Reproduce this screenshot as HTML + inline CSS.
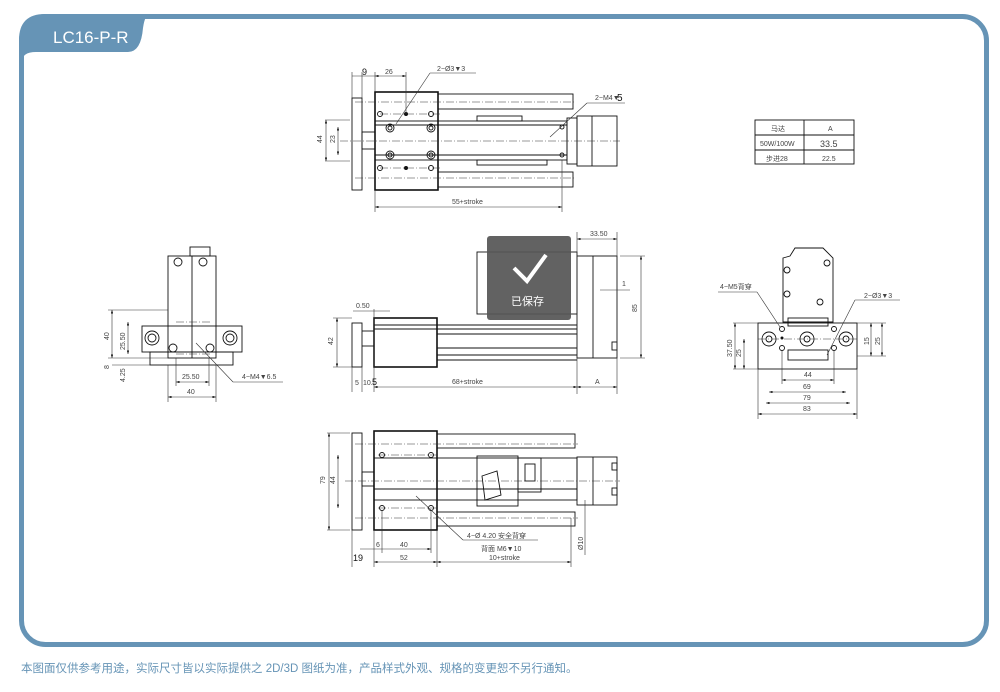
<!DOCTYPE html>
<html><head><meta charset="utf-8"><style>
html,body{margin:0;padding:0;background:#fff;width:1000px;height:692px;overflow:hidden}
svg{display:block}
.t{font-family:"Liberation Sans","Noto Sans CJK SC",sans-serif;fill:#444;font-size:7px}
.k{stroke:#111;fill:none;stroke-width:0.9}
.th{stroke:#111;fill:none;stroke-width:1.6}
.d{stroke:#333;fill:none;stroke-width:0.6}
.c{stroke:#333;fill:none;stroke-width:0.5;stroke-dasharray:8 2 1 2}
</style></head><body>
<svg width="1000" height="692" viewBox="0 0 1000 692" xmlns="http://www.w3.org/2000/svg">
<defs><marker id="a" markerWidth="6" markerHeight="4" refX="6" refY="2" orient="auto-start-reverse"><path d="M0,0L6,2L0,4z" fill="#111"/></marker></defs>
<rect x="21.5" y="16.5" width="965" height="628" rx="24" fill="#fff" stroke="#6694b6" stroke-width="5"/>
<path d="M19,40 Q19,14 45,14 L150,14 Q145,14 143,28 Q141,52 128,52 L36,52 Q22,52 22,62 Z" fill="#6694b6"/>
<text x="53" y="43" font-family="Liberation Sans,sans-serif" font-size="17" fill="#fff">LC16-P-R</text>

<!-- TOP VIEW -->
<g>
<rect class="k" x="352" y="98" width="10" height="92"/>
<rect class="th" x="375" y="92" width="63" height="98"/>
<rect class="k" x="375" y="121" width="192" height="39"/>
<line class="k" x1="375" y1="125" x2="567" y2="125"/><line class="k" x1="375" y1="155" x2="567" y2="155"/>
<rect class="k" x="438" y="94" width="135" height="15"/><rect class="k" x="438" y="172" width="135" height="15"/>
<rect class="k" x="577" y="116" width="40" height="50"/><line class="k" x1="592" y1="116" x2="592" y2="166"/>
<rect class="k" x="567" y="118" width="10" height="46"/>
<rect class="k" x="477" y="116" width="45" height="5"/><rect class="k" x="477" y="160" width="70" height="5"/>
<rect class="k" x="362" y="132" width="13" height="17"/>
<line class="c" x1="340" y1="141" x2="620" y2="141"/>
<line class="c" x1="355" y1="102" x2="575" y2="102"/><line class="c" x1="355" y1="178" x2="575" y2="178"/>
<line class="c" x1="380" y1="114" x2="440" y2="114"/><line class="c" x1="380" y1="168" x2="440" y2="168"/>
<g class="k"><circle cx="390" cy="128" r="4"/><circle cx="390" cy="128" r="2"/><circle cx="431" cy="128" r="4"/><circle cx="431" cy="128" r="2"/>
<circle cx="390" cy="155" r="4"/><circle cx="390" cy="155" r="2"/><circle cx="431" cy="155" r="4"/><circle cx="431" cy="155" r="2"/>
<circle cx="380" cy="114" r="2.5"/><circle cx="431" cy="114" r="2.5"/><circle cx="380" cy="168" r="2.5"/><circle cx="431" cy="168" r="2.5"/>
<circle cx="562" cy="127" r="2"/><circle cx="562" cy="155" r="2"/></g>
<circle cx="406" cy="114" r="2" fill="#111"/><circle cx="406" cy="168" r="2" fill="#111"/>
<line class="d" x1="396" y1="124" x2="430" y2="73"/><line class="d" x1="430" y1="73" x2="476" y2="73"/>
<text class="t" x="437" y="71">2−Ø3▼3</text>
<line class="d" x1="550" y1="137" x2="587" y2="103"/><line class="d" x1="587" y1="103" x2="625" y2="103"/>
<text class="t" x="595" y="100">2−M4▼</text><text x="617" y="101" font-family="Liberation Sans" font-size="10" fill="#111">5</text>
<line class="d" x1="352" y1="72" x2="352" y2="98"/><line class="d" x1="362" y1="72" x2="362" y2="98"/><line class="d" x1="375" y1="72" x2="375" y2="92"/><line class="d" x1="406" y1="72" x2="406" y2="114"/>
<line class="d" x1="352" y1="76" x2="375" y2="76"/><line class="d" x1="375" y1="76" x2="406" y2="76" marker-start="url(#a)" marker-end="url(#a)"/>
<text x="362" y="75" font-size="9" font-family="Liberation Sans" fill="#111">9</text><text class="t" x="385" y="74">26</text>
<line class="d" x1="325" y1="120" x2="350" y2="120" /><line class="d" x1="325" y1="161" x2="350" y2="161"/>
<line class="d" x1="326" y1="120" x2="326" y2="161" marker-start="url(#a)" marker-end="url(#a)"/>
<line class="d" x1="338" y1="127" x2="338" y2="155" marker-start="url(#a)" marker-end="url(#a)"/>
<text class="t" x="322" y="143" transform="rotate(-90 322 143)">44</text><text class="t" x="335" y="143" transform="rotate(-90 335 143)">23</text>
<line class="d" x1="375" y1="190" x2="375" y2="212"/><line class="d" x1="562" y1="160" x2="562" y2="212"/>
<line class="d" x1="375" y1="207" x2="562" y2="207" marker-start="url(#a)" marker-end="url(#a)"/>
<text class="t" x="452" y="204">55+stroke</text>
</g>

<!-- TABLE -->
<g>
<rect class="k" x="755" y="120" width="99" height="44"/>
<line class="k" x1="755" y1="135" x2="854" y2="135"/><line class="k" x1="755" y1="150" x2="854" y2="150"/><line class="k" x1="804" y1="120" x2="804" y2="164"/>
<text class="t" x="771" y="131">马达</text><text class="t" x="828" y="131">A</text>
<text class="t" x="760" y="146">50W/100W</text><text class="t" x="820" y="147" style="font-size:9px">33.5</text>
<text class="t" x="766" y="161">步进28</text><text class="t" x="822" y="161">22.5</text>
</g>

<!-- MIDDLE SIDE VIEW -->
<g>
<rect class="k" x="352" y="323" width="10" height="44"/>
<rect class="th" x="374" y="318" width="63" height="49"/>
<line class="k" x1="374" y1="325" x2="577" y2="325"/><line class="k" x1="374" y1="329" x2="577" y2="329"/>
<line class="k" x1="437" y1="334" x2="577" y2="334"/><line class="k" x1="437" y1="348" x2="577" y2="348"/><line class="k" x1="437" y1="355" x2="577" y2="355"/><line class="k" x1="437" y1="360" x2="577" y2="360"/>
<rect class="k" x="577" y="256" width="40" height="102"/><line class="k" x1="593" y1="256" x2="593" y2="358"/>
<rect class="k" x="612" y="342" width="5" height="8"/>
<rect class="k" x="477" y="252" width="100" height="62"/>
<line class="k" x1="362" y1="331" x2="374" y2="331"/><line class="k" x1="362" y1="346" x2="374" y2="346"/>
<rect x="487" y="236" width="84" height="84" rx="3" fill="#555" opacity="0.92"/>
<path d="M514,268 L527,281 L546,255" stroke="#fff" stroke-width="4" fill="none"/>
<text x="511" y="305" font-family="Liberation Sans,Noto Sans CJK SC,sans-serif" font-size="11" fill="#fff">已保存</text>
<line class="d" x1="577" y1="232" x2="577" y2="394"/><line class="d" x1="617" y1="232" x2="617" y2="394"/>
<line class="d" x1="577" y1="239" x2="617" y2="239" marker-start="url(#a)" marker-end="url(#a)"/><text class="t" x="590" y="236">33.50</text>
<line class="d" x1="620" y1="256" x2="645" y2="256"/><line class="d" x1="620" y1="358" x2="645" y2="358"/>
<line class="d" x1="641" y1="256" x2="641" y2="358" marker-start="url(#a)" marker-end="url(#a)"/><text class="t" x="637" y="312" transform="rotate(-90 637 312)">85</text>
<line class="d" x1="600" y1="290" x2="630" y2="290"/><text class="t" x="622" y="286">1</text>
<line class="d" x1="577" y1="387" x2="617" y2="387" marker-start="url(#a)" marker-end="url(#a)"/><text class="t" x="595" y="384">A</text>
<line class="d" x1="374" y1="387" x2="577" y2="387" marker-start="url(#a)" marker-end="url(#a)"/><text class="t" x="452" y="384">68+stroke</text>
<line class="d" x1="352" y1="367" x2="352" y2="392"/><line class="d" x1="362" y1="367" x2="362" y2="392"/><line class="d" x1="374" y1="309" x2="374" y2="392"/>
<text class="t" x="355" y="385">5</text><text class="t" x="363" y="385">10.</text><text x="372" y="385" font-size="9" font-family="Liberation Sans" fill="#111">5</text>
<line class="d" x1="353" y1="311" x2="390" y2="311"/><text class="t" x="356" y="308">0.50</text>
<line class="d" x1="333" y1="318" x2="352" y2="318"/><line class="d" x1="333" y1="367" x2="352" y2="367"/>
<line class="d" x1="337" y1="318" x2="337" y2="367" marker-start="url(#a)" marker-end="url(#a)"/><text class="t" x="333" y="345" transform="rotate(-90 333 345)">42</text>
</g>

<!-- BOTTOM VIEW -->
<g>
<rect class="k" x="352" y="433" width="10" height="97"/>
<rect class="th" x="374" y="431" width="63" height="99"/>
<rect class="k" x="374" y="458" width="203" height="42"/>
<line class="k" x1="374" y1="489" x2="577" y2="489"/>
<rect class="k" x="437" y="434" width="138" height="14"/><rect class="k" x="437" y="512" width="138" height="14"/>
<rect class="k" x="477" y="456" width="41" height="50"/><rect class="k" x="518" y="458" width="23" height="34"/><rect class="k" x="525" y="464" width="10" height="17"/>
<path class="k" d="M482,476 L497,471 L501,495 L485,500Z"/>
<rect class="k" x="577" y="457" width="40" height="48"/><line class="k" x1="593" y1="457" x2="593" y2="505"/>
<rect class="k" x="612" y="463" width="5" height="7"/><rect class="k" x="612" y="488" width="5" height="7"/>
<rect class="k" x="362" y="472" width="12" height="14"/>
<line class="c" x1="345" y1="481" x2="620" y2="481"/>
<line class="c" x1="355" y1="444" x2="578" y2="444"/><line class="c" x1="355" y1="518" x2="578" y2="518"/>
<line class="c" x1="378" y1="455" x2="440" y2="455"/><line class="c" x1="378" y1="508" x2="440" y2="508"/>
<g class="k"><circle cx="382" cy="455" r="2.5"/><circle cx="431" cy="455" r="2.5"/><circle cx="382" cy="508" r="2.5"/><circle cx="431" cy="508" r="2.5"/></g>
<line class="d" x1="416" y1="496" x2="463" y2="540"/><line class="d" x1="463" y1="540" x2="538" y2="540"/>
<text class="t" x="467" y="538">4−Ø 4.20 安全背穿</text><text class="t" x="481" y="551">背面 M6▼10</text>
<line class="d" x1="327" y1="433" x2="350" y2="433"/><line class="d" x1="327" y1="530" x2="350" y2="530"/>
<line class="d" x1="329" y1="433" x2="329" y2="530" marker-start="url(#a)" marker-end="url(#a)"/><text class="t" x="325" y="484" transform="rotate(-90 325 484)">79</text>
<line class="d" x1="338" y1="455" x2="338" y2="508" marker-start="url(#a)" marker-end="url(#a)"/><text class="t" x="335" y="484" transform="rotate(-90 335 484)">44</text>
<line class="d" x1="352" y1="530" x2="352" y2="567"/><line class="d" x1="374" y1="530" x2="374" y2="567"/><line class="d" x1="437" y1="530" x2="437" y2="567"/><line class="d" x1="382" y1="510" x2="382" y2="553"/><line class="d" x1="431" y1="510" x2="431" y2="553"/><line class="d" x1="571" y1="518" x2="571" y2="567"/>
<line class="d" x1="360" y1="549" x2="431" y2="549" marker-end="url(#a)"/><text class="t" x="376" y="547">6</text><text class="t" x="400" y="547">40</text>
<line class="d" x1="374" y1="562" x2="437" y2="562" marker-start="url(#a)" marker-end="url(#a)"/><text class="t" x="400" y="560">52</text>
<line class="d" x1="437" y1="562" x2="571" y2="562" marker-start="url(#a)" marker-end="url(#a)"/><text class="t" x="489" y="560">10+stroke</text>
<text x="353" y="561" font-size="9" font-family="Liberation Sans" fill="#111">19</text>
<line class="d" x1="585" y1="500" x2="585" y2="555"/><text class="t" x="583" y="550" transform="rotate(-90 583 550)">Ø10</text>
</g>

<!-- LEFT END VIEW -->
<g>
<rect class="k" x="168" y="256" width="48" height="102"/><line class="k" x1="192" y1="256" x2="192" y2="358"/>
<rect class="k" x="190" y="247" width="20" height="9"/>
<rect class="k" x="142" y="326" width="100" height="26"/>
<rect class="k" x="150" y="352" width="83" height="13"/>
<g class="k"><circle cx="178" cy="262" r="4"/><circle cx="203" cy="262" r="4"/><circle cx="173" cy="348" r="4"/><circle cx="210" cy="348" r="4"/>
<circle cx="152" cy="338" r="7"/><circle cx="152" cy="338" r="4"/><circle cx="230" cy="338" r="7"/><circle cx="230" cy="338" r="4"/></g>
<line class="c" x1="176" y1="322" x2="210" y2="322"/><line class="c" x1="176" y1="354" x2="210" y2="354"/>
<line class="d" x1="108" y1="310" x2="168" y2="310"/><line class="d" x1="108" y1="358" x2="168" y2="358"/>
<line class="d" x1="112" y1="310" x2="112" y2="358" marker-start="url(#a)" marker-end="url(#a)"/><text class="t" x="109" y="340" transform="rotate(-90 109 340)">40</text>
<line class="d" x1="128" y1="322" x2="128" y2="354" marker-start="url(#a)" marker-end="url(#a)"/><text class="t" x="125" y="350" transform="rotate(-90 125 350)">25.50</text>
<line class="d" x1="112" y1="365" x2="150" y2="365"/>
<text class="t" x="109" y="369" transform="rotate(-90 109 369)">8</text><text class="t" x="125" y="382" transform="rotate(-90 125 382)">4.25</text>
<line class="d" x1="176" y1="358" x2="176" y2="386"/><line class="d" x1="209" y1="358" x2="209" y2="386"/>
<line class="d" x1="176" y1="382" x2="209" y2="382" marker-start="url(#a)" marker-end="url(#a)"/><text class="t" x="182" y="379">25.50</text>
<line class="d" x1="168" y1="397" x2="216" y2="397" marker-start="url(#a)" marker-end="url(#a)"/><text class="t" x="187" y="394">40</text>
<line class="d" x1="168" y1="365" x2="168" y2="402"/><line class="d" x1="216" y1="365" x2="216" y2="402"/>
<line class="d" x1="196" y1="343" x2="233" y2="382"/><line class="d" x1="233" y1="382" x2="283" y2="382"/>
<text class="t" x="242" y="379">4−M4▼6.5</text>
</g>

<!-- RIGHT END VIEW -->
<g>
<path class="k" d="M783,258 L790,256 L795,248 L823,248 L833,258 L833,322 L783,322Z"/>
<g class="k"><circle cx="787" cy="270" r="3"/><circle cx="827" cy="263" r="3"/><circle cx="787" cy="294" r="3"/><circle cx="820" cy="302" r="3"/></g>
<rect class="k" x="788" y="318" width="40" height="8"/>
<rect class="k" x="758" y="323" width="99" height="46"/>
<rect class="k" x="788" y="350" width="40" height="10"/>
<g class="k"><circle cx="769" cy="339" r="7"/><circle cx="769" cy="339" r="3"/><circle cx="807" cy="339" r="7"/><circle cx="807" cy="339" r="3"/><circle cx="846" cy="339" r="7"/><circle cx="846" cy="339" r="3"/>
<circle cx="782" cy="329" r="2.5"/><circle cx="834" cy="329" r="2.5"/><circle cx="782" cy="348" r="2.5"/><circle cx="834" cy="348" r="2.5"/></g>
<circle cx="782" cy="338" r="1.5" fill="#111"/>
<line class="c" x1="758" y1="339" x2="857" y2="339"/>
<line class="d" x1="718" y1="292" x2="757" y2="292"/><line class="d" x1="757" y1="292" x2="780" y2="327"/><text class="t" x="720" y="289">4−M5背穿</text>
<line class="d" x1="827" y1="355" x2="855" y2="300"/><line class="d" x1="855" y1="300" x2="900" y2="300"/><text class="t" x="864" y="298">2−Ø3▼3</text>
<line class="d" x1="733" y1="323" x2="758" y2="323"/><line class="d" x1="733" y1="369" x2="758" y2="369"/>
<line class="d" x1="735" y1="323" x2="735" y2="369" marker-start="url(#a)" marker-end="url(#a)"/><text class="t" x="732" y="357" transform="rotate(-90 732 357)">37.50</text>
<line class="d" x1="744" y1="339" x2="744" y2="369" marker-start="url(#a)" marker-end="url(#a)"/><text class="t" x="741" y="357" transform="rotate(-90 741 357)">25</text>
<line class="d" x1="871" y1="323" x2="871" y2="356" marker-start="url(#a)" marker-end="url(#a)"/><text class="t" x="869" y="345" transform="rotate(-90 869 345)">15</text>
<line class="d" x1="882" y1="323" x2="882" y2="356" marker-start="url(#a)" marker-end="url(#a)"/><text class="t" x="880" y="345" transform="rotate(-90 880 345)">25</text>
<line class="d" x1="857" y1="323" x2="886" y2="323"/><line class="d" x1="857" y1="356" x2="886" y2="356"/>
<line class="d" x1="782" y1="380" x2="834" y2="380" marker-start="url(#a)" marker-end="url(#a)"/><text class="t" x="804" y="377">44</text>
<line class="d" x1="769" y1="392" x2="846" y2="392" marker-start="url(#a)" marker-end="url(#a)"/><text class="t" x="803" y="389">69</text>
<line class="d" x1="766" y1="403" x2="850" y2="403" marker-start="url(#a)" marker-end="url(#a)"/><text class="t" x="803" y="400">79</text>
<line class="d" x1="758" y1="414" x2="857" y2="414" marker-start="url(#a)" marker-end="url(#a)"/><text class="t" x="803" y="411">83</text>
<line class="d" x1="758" y1="369" x2="758" y2="419"/><line class="d" x1="857" y1="369" x2="857" y2="419"/><line class="d" x1="782" y1="350" x2="782" y2="384"/><line class="d" x1="834" y1="350" x2="834" y2="384"/>
</g>

<text x="21" y="672" font-family="Liberation Sans,Noto Sans CJK SC,sans-serif" font-size="11.5" fill="#6694b6">本图面仅供参考用途，实际尺寸皆以实际提供之 2D/3D 图纸为准，产品样式外观、规格的变更恕不另行通知。</text>
</svg>
</body></html>
